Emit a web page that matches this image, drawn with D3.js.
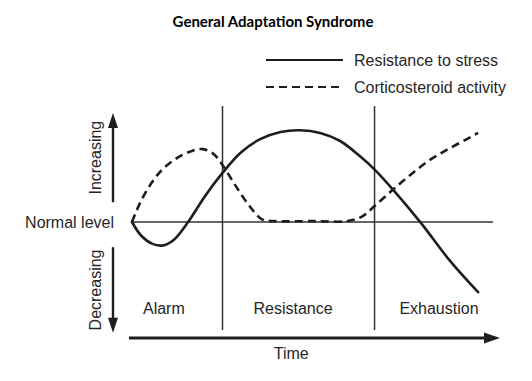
<!DOCTYPE html>
<html><head><meta charset="utf-8">
<script src="https://cdn.jsdelivr.net/npm/d3@7"></script>
<style>
html,body{margin:0;padding:0;background:#fff;}
svg{display:block;}
</style></head>
<body>
<script>
// ---- data ----
const title = "General Adaptation Syndrome";
const seriesNames = ["Resistance to stress", "Corticosteroid activity"];
const phases = ["Alarm", "Resistance", "Exhaustion"];
const phaseBounds = [0, 25, 67, 100];        // time units
const phaseLabelT = [8.8, 44.5, 84.8];
const resistanceT = [0, 2.5, 5.5, 8.6, 11.5, 15.5, 20.2, 24.9, 30, 35.4, 41, 46.4, 52, 57.5, 63, 67.1, 72.1, 79.8, 87.8, 95.6];
const resistanceV = [0, -0.15, -0.24, -0.26, -0.2, 0, 0.29, 0.54, 0.77, 0.92, 1.0, 1.02, 0.99, 0.9, 0.73, 0.58, 0.36, -0.01, -0.43, -0.78];
const corticoT = [0, 2.2, 5.0, 8.3, 12.4, 16.6, 19.6, 22.4, 24.9, 28.5, 32.6, 35.9, 39.5, 50, 59.5, 63.5, 67.1, 72.1, 76.8, 82.3, 87.8, 93.4, 95.6];
const corticoV = [0, 0.21, 0.41, 0.58, 0.71, 0.79, 0.81, 0.76, 0.64, 0.41, 0.17, 0.03, 0.01, 0.01, 0.01, 0.06, 0.18, 0.36, 0.52, 0.69, 0.82, 0.94, 0.99];
const normalLevel = 0;
const upArrow = [0.22, 1.21];     // level units
const downArrow = [-0.28, -1.23];

// ---- layout ----
const W = 532, H = 381;
const svg = d3.select("body").append("svg").attr("width", W).attr("height", H);
const x = d3.scaleLinear().domain([0, 100]).range([132, 494]);
const y = d3.scaleLinear().domain([-1.2, 1.2]).range([330, 114]);
const ink = "#1e1e1e";
const txt = "#262626";
const font = "'Liberation Sans', Arial, Helvetica, sans-serif";
const fs = 16;

// title
svg.append("text").attr("x", 273).attr("y", 27).attr("text-anchor", "middle")
  .attr("font-family", "Lato, 'Open Sans', sans-serif").attr("font-weight", "bold")
  .attr("font-size", 15).attr("fill", "#000").text(title);

// legend
const legY = [60, 87];
const leg = svg.append("g");
seriesNames.forEach((n, i) => {
  leg.append("line").attr("x1", 266).attr("x2", 343).attr("y1", legY[i]).attr("y2", legY[i])
    .attr("stroke", ink).attr("stroke-width", 2.2)
    .attr("stroke-dasharray", i === 1 ? "8,5" : null);
  leg.append("text").attr("x", 354).attr("y", legY[i] + 6).attr("font-family", font)
    .attr("font-size", fs).attr("fill", txt).text(n);
});

// phase dividers
phaseBounds.slice(1, 3).forEach(b => {
  svg.append("line").attr("x1", x(b)).attr("x2", x(b)).attr("y1", 106).attr("y2", 330)
    .attr("stroke", "#333").attr("stroke-width", 1.5);
});

// normal level line
svg.append("line").attr("x1", x(0)).attr("x2", x(100) - 1).attr("y1", y(normalLevel)).attr("y2", y(normalLevel))
  .attr("stroke", "#333").attr("stroke-width", 1.6);
svg.append("text").attr("x", 114).attr("y", y(normalLevel) + 6).attr("text-anchor", "end")
  .attr("font-family", font).attr("font-size", fs).attr("fill", txt).text("Normal level");

// curves
const line = d3.line().x(d => x(d[0])).y(d => y(d[1])).curve(d3.curveCatmullRom.alpha(0.5));
svg.append("path").datum(resistanceT.map((t, i) => [t, resistanceV[i]]))
  .attr("d", line).attr("fill", "none").attr("stroke", ink).attr("stroke-width", 2.6)
  .attr("stroke-linecap", "round");
svg.append("path").datum(corticoT.map((t, i) => [t, corticoV[i]]))
  .attr("d", line).attr("fill", "none").attr("stroke", ink).attr("stroke-width", 2.6)
  .attr("stroke-dasharray", "8,5");

// vertical arrows
const ax = 113;
function vArrow(v0, v1) {
  const yt = y(v1), dir = v1 > v0 ? 1 : -1;
  svg.append("line").attr("x1", ax).attr("x2", ax).attr("y1", y(v0)).attr("y2", yt + dir * 10)
    .attr("stroke", ink).attr("stroke-width", 2.4);
  svg.append("path").attr("d", `M${ax},${yt} L${ax - 5},${yt + dir * 15} L${ax + 5},${yt + dir * 15} Z`).attr("fill", ink);
}
vArrow(upArrow[0], upArrow[1]);
vArrow(downArrow[0], downArrow[1]);
svg.append("text").attr("transform", `translate(101,${(y(upArrow[0]) + y(upArrow[1])) / 2}) rotate(-90)`)
  .attr("text-anchor", "middle").attr("font-family", font).attr("font-size", fs).attr("fill", txt).text("Increasing");
svg.append("text").attr("transform", `translate(101,${(y(downArrow[0]) + y(downArrow[1])) / 2}) rotate(-90)`)
  .attr("text-anchor", "middle").attr("font-family", font).attr("font-size", fs).attr("fill", txt).text("Decreasing");

// time axis
const ty = 338, tx0 = 129, tx1 = 500;
svg.append("line").attr("x1", tx0).attr("x2", tx1 - 10).attr("y1", ty).attr("y2", ty)
  .attr("stroke", ink).attr("stroke-width", 3);
svg.append("path").attr("d", `M${tx1},${ty} L${tx1 - 16},${ty - 5.5} L${tx1 - 16},${ty + 5.5} Z`).attr("fill", ink);
svg.append("text").attr("x", x(44)).attr("y", 359).attr("text-anchor", "middle")
  .attr("font-family", font).attr("font-size", fs).attr("fill", txt).text("Time");

// phase labels
phases.forEach((p, i) => {
  svg.append("text").attr("x", x(phaseLabelT[i]))
    .attr("y", 314).attr("text-anchor", "middle")
    .attr("font-family", font).attr("font-size", fs).attr("fill", txt).text(p);
});
</script>
</body></html>
